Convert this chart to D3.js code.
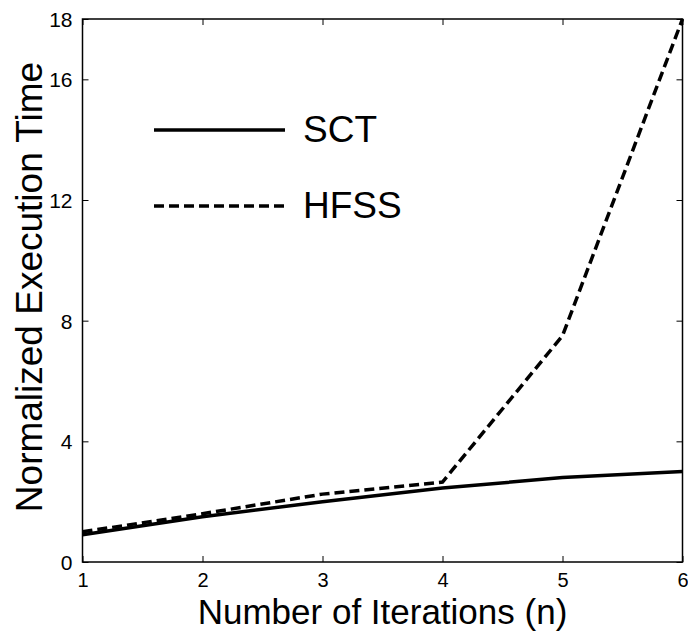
<!DOCTYPE html>
<html><head><meta charset="utf-8">
<script src="https://cdn.jsdelivr.net/npm/d3@7"></script>
<style>body{margin:0;background:#fff}svg{display:block}text{font-family:"Liberation Sans",Arial,sans-serif;fill:#000}</style>
</head><body><div id="c"></div>
<script>
const iterations = [1, 2, 3, 4, 5, 6];
const sct = [0.9, 1.5, 2.0, 2.45, 2.8, 3.0];
const hfss = [1.0, 1.6, 2.25, 2.65, 7.5, 18.0];
const xTicks = [1, 2, 3, 4, 5, 6];
const yTicks = [0, 4, 8, 12, 16, 18];
const seriesNames = ["SCT", "HFSS"];

const W = 688, H = 632;
const m = {l: 82.5, r: 5.5, t: 19, b: 70};
const svg = d3.select("#c").append("svg").attr("width", W).attr("height", H);
const x = d3.scaleLinear().domain([1, 6]).range([m.l, W - m.r]);
const y = d3.scaleLinear().domain([0, 18]).range([H - m.b, m.t]);

const g = svg.append("g");
g.append("rect").attr("x", x(1)).attr("y", y(18)).attr("width", x(6) - x(1)).attr("height", y(0) - y(18))
  .attr("fill", "none").attr("stroke", "#000").attr("stroke-width", 1.5);

const xa = g.append("g").attr("transform", `translate(0,${y(0)})`)
  .call(d3.axisBottom(x).tickValues(xTicks).tickSize(-6).tickPadding(11).tickFormat(d3.format("d")));
const xt = g.append("g").attr("transform", `translate(0,${y(18)})`)
  .call(d3.axisTop(x).tickValues(xTicks).tickSize(-6).tickFormat(""));
const ya = g.append("g").attr("transform", `translate(${x(1)},0)`)
  .call(d3.axisLeft(y).tickValues(yTicks).tickSize(-6).tickPadding(10).tickFormat(d3.format("d")));
const yr = g.append("g").attr("transform", `translate(${x(6)},0)`)
  .call(d3.axisRight(y).tickValues(yTicks).tickSize(-6).tickFormat(""));
[xa, xt, ya, yr].forEach(a => {
  a.select(".domain").remove();
  a.selectAll("line").attr("stroke", "#000").attr("stroke-width", 1);
  a.attr("font-size", null).attr("font-family", null);
  a.selectAll("text").style("font-size", "21px");
});
xa.selectAll("text").style("font-size", "20px").attr("dy", "0.71em");
ya.selectAll("text").attr("dy", "0.35em");

const line = d3.line().x((d, i) => x(iterations[i])).y(d => y(d));
g.append("path").datum(sct).attr("d", line).attr("fill", "none").attr("stroke", "#000").attr("stroke-width", 3.5);
g.append("path").datum(hfss).attr("d", line).attr("fill", "none").attr("stroke", "#000").attr("stroke-width", 3.5)
  .attr("stroke-dasharray", "10,5");

const leg = [{name: seriesNames[0], dash: null, yy: 130}, {name: seriesNames[1], dash: "10,5", yy: 206}];
leg.forEach(l => {
  g.append("line").attr("x1", 154).attr("x2", 285).attr("y1", l.yy).attr("y2", l.yy)
    .attr("stroke", "#000").attr("stroke-width", 3.5).attr("stroke-dasharray", l.dash);
  g.append("text").attr("x", 303).attr("y", l.yy + 12).style("font-size", "37px").text(l.name);
});

svg.append("text").attr("x", (x(1) + x(6)) / 2).attr("y", 624).attr("text-anchor", "middle")
  .style("font-size", "35px").text("Number of Iterations (n)");
svg.append("text").attr("transform", `translate(42,287) rotate(-90)`).attr("text-anchor", "middle")
  .style("font-size", "37px").text("Normalized Execution Time");
</script></body></html>
